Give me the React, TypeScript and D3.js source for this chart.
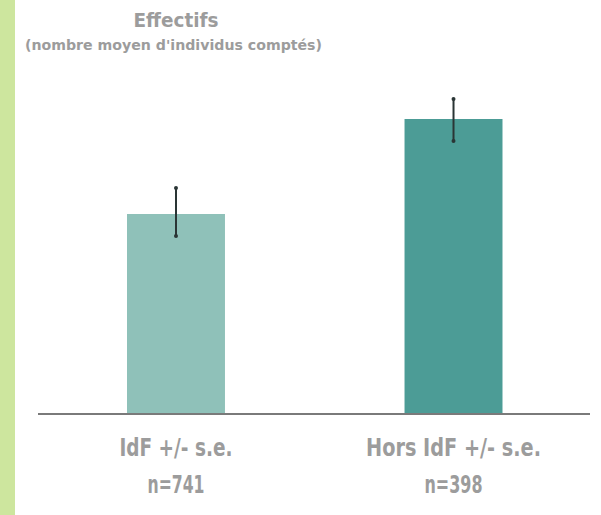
import React from "react";
import * as d3 from "d3";

const categories = ["IdF", "Hors IdF"];
const labelLine1 = ["IdF +/- s.e.", "Hors IdF  +/- s.e."];
const labelLine2 = ["n=741", "n=398"];
const means = [19.9, 29.4];
const errLow = [17.7, 27.2];
const errHigh = [22.5, 31.4];
const barColors = ["#8fc1b9", "#4c9c96"];

const W = 601;
const H = 515;

export default function App() {
  const x = d3
    .scaleBand<string>()
    .domain(categories)
    .range([37.5, 592])
    .paddingInner(0.647)
    .paddingOuter(0.3225);
  const y = d3.scaleLinear().domain([0, 40]).range([413, 13]);
  const bw = x.bandwidth();
  const font = "'DejaVu Sans Condensed', 'DejaVu Sans', sans-serif";
  const textColor = "#9c9c9c";
  const line1Len = [113, 175];
  const line2Len = [57, 58];

  return (
    <div style={{ position: "absolute", left: 0, top: 0 }}>
      <svg width={W} height={H} style={{ display: "block" }}>
        <rect x={0} y={0} width={W} height={H} fill="#ffffff" />
        <rect x={0} y={0} width={15} height={H} fill="#cde69e" />
        <text
          x={176}
          y={27}
          textAnchor="middle"
          fontFamily={font}
          fontWeight="bold"
          fontSize={19}
          fill={textColor}
          textLength={85}
          lengthAdjust="spacingAndGlyphs"
        >
          Effectifs
        </text>
        <text
          x={173.5}
          y={50}
          textAnchor="middle"
          fontFamily={font}
          fontWeight="bold"
          fontSize={14.5}
          fill={textColor}
          textLength={297}
          lengthAdjust="spacingAndGlyphs"
        >
          (nombre moyen d'individus comptés)
        </text>
        {categories.map((c, i) => (
          <rect
            key={c}
            x={x(c)}
            y={y(means[i])}
            width={bw}
            height={y(0) - y(means[i])}
            fill={barColors[i]}
          />
        ))}
        <line x1={38} x2={590} y1={414} y2={414} stroke="#7a7a7a" strokeWidth={2} />
        {categories.map((c, i) => {
          const cx = (x(c) as number) + bw / 2;
          return (
            <g key={"e" + c}>
              <line
                x1={cx}
                x2={cx}
                y1={y(errHigh[i])}
                y2={y(errLow[i])}
                stroke="#2a3535"
                strokeWidth={2}
              />
              <circle cx={cx} cy={y(errHigh[i])} r={2} fill="#2a3535" />
              <circle cx={cx} cy={y(errLow[i])} r={2} fill="#2a3535" />
            </g>
          );
        })}
        {categories.map((c, i) => {
          const cx = (x(c) as number) + bw / 2;
          return (
            <g key={"l" + c}>
              <text
                x={cx}
                y={456}
                textAnchor="middle"
                fontFamily={font}
                fontWeight="bold"
                fontSize={25}
                fill={textColor}
                textLength={line1Len[i]}
                lengthAdjust="spacingAndGlyphs"
              >
                {labelLine1[i]}
              </text>
              <text
                x={cx}
                y={493}
                textAnchor="middle"
                fontFamily={font}
                fontWeight="bold"
                fontSize={25}
                fill={textColor}
                textLength={line2Len[i]}
                lengthAdjust="spacingAndGlyphs"
              >
                {labelLine2[i]}
              </text>
            </g>
          );
        })}
      </svg>
    </div>
  );
}
